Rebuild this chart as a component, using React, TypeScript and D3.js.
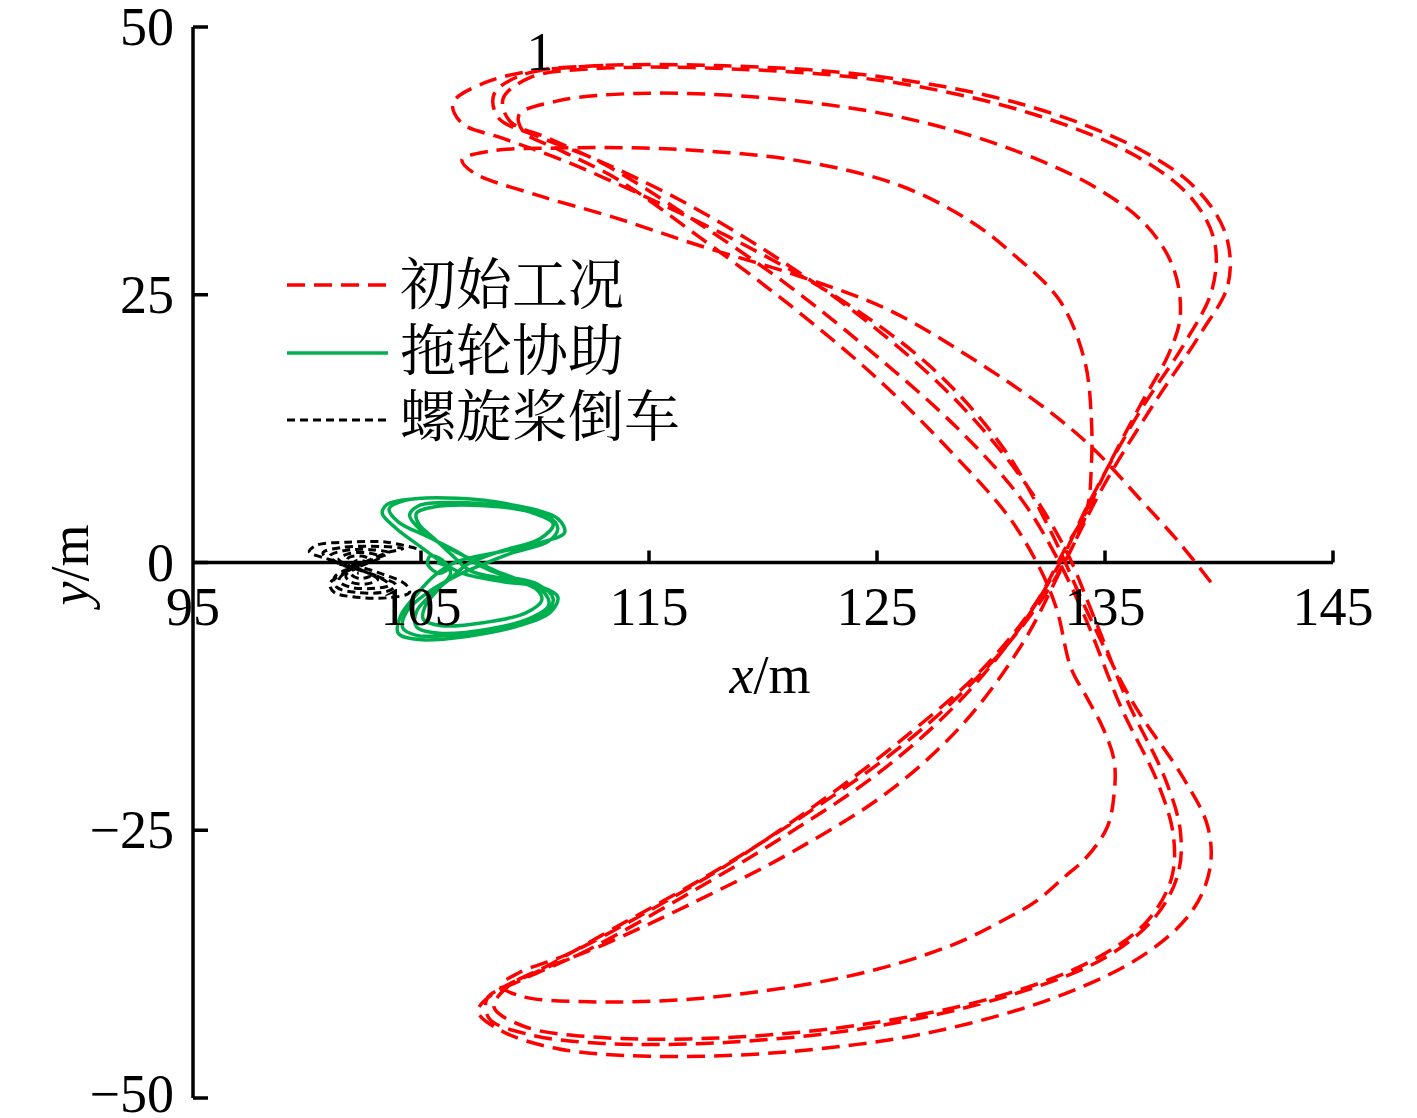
import React from 'react';
import * as d3 from 'd3';

type P = [number, number];

const xTicks = [95, 105, 115, 125, 135, 145];
const yTicks = [-50, -25, 0, 25, 50];
const legendLabels = ['初始工况', '拖轮协助', '螺旋桨倒车'];
const seriesColors = ['#ff0000', '#00b050', '#000000'];

const redTrack: P[] = [
  [113.0, 46.4], [110.2, 46.0], [107.8, 44.8], [106.4, 42.9], [106.8, 41.0],
  [108.6, 39.6], [111.4, 37.4], [115.2, 33.8], [119.5, 29.3], [123.8, 24.0], [127.6, 17.8], [130.6, 10.5], [132.6, 3.0], [134.2, -4.5], [136.2, -13.0], [138.4, -20.0],
  [139.5, -24.6], [139.6, -28.6], [138.8, -32.6], [136.8, -36.5], [133.2, -40.3], [127.5, -43.8], [121.0, -45.7], [115.0, -46.1], [111.0, -45.4], [108.5, -43.7], [107.5, -41.9], [108.2, -40.2],
  [110.1, -38.2], [113.1, -35.6], [117.1, -31.6], [121.3, -27.0], [125.5, -21.4], [128.8, -15.0], [131.4, -7.5], [133.2, -0.1], [135.0, 7.4], [137.2, 15.0], [139.2, 21.4],
  [140.4, 26.0], [140.3, 30.6], [139.0, 34.9], [136.4, 38.7], [131.5, 42.7], [125.0, 45.4], [118.0, 46.4], [112.0, 46.3], [109.4, 45.5], [108.2, 43.7], [108.4, 41.5],
  [110.1, 39.8], [112.7, 37.6], [116.4, 33.8], [120.5, 28.6], [124.5, 22.6], [128.3, 15.5], [131.2, 8.3], [133.2, 1.5], [134.5, -5.0], [136.0, -13.0], [137.6, -20.0],
  [138.3, -25.0], [138.2, -29.1], [137.2, -33.1], [135.0, -36.9], [131.0, -40.3], [125.0, -43.3], [118.5, -44.8], [113.0, -44.9], [109.8, -44.1], [108.0, -42.6], [107.9, -40.7],
  [109.3, -39.1], [112.3, -36.2], [116.5, -31.2], [120.9, -25.6], [125.1, -19.6], [128.5, -13.2], [131.1, -6.6], [132.9, -0.5], [134.4, 6.0], [136.5, 14.0], [138.5, 20.5],
  [139.7, 25.5], [139.8, 30.0], [138.8, 34.0], [136.4, 37.9], [131.8, 41.9], [125.5, 44.9], [118.5, 46.1], [112.5, 46.1], [109.8, 45.3], [108.6, 43.3], [108.9, 41.2],
  [110.6, 39.6], [113.2, 37.0], [116.8, 32.2], [120.9, 26.2], [124.8, 19.6], [128.5, 12.6], [131.3, 6.0], [133.0, 0.0], [134.2, -5.5], [135.7, -13.5], [137.3, -20.5],
  [138.0, -25.5], [137.9, -29.6], [136.8, -33.6], [134.5, -37.1], [130.5, -40.4], [124.5, -43.1], [118.0, -44.4], [112.5, -44.3], [109.5, -43.3], [108.2, -41.5], [108.8, -39.6],
  [110.6, -37.6], [113.6, -34.0], [117.6, -29.2], [121.8, -23.6], [125.8, -17.6], [129.0, -11.6], [131.5, -5.6], [133.3, 0.3], [134.8, 7.5], [136.5, 14.5], [137.8, 19.5],
  [138.3, 23.0], [138.0, 27.5], [136.8, 31.5], [134.6, 35.0], [131.0, 38.5], [126.0, 41.6], [120.0, 43.4], [114.5, 43.8], [111.0, 43.1], [109.3, 41.8], [109.5, 40.2],
  [111.0, 38.6], [113.6, 35.8], [117.2, 30.4], [121.2, 24.0], [125.0, 17.2], [128.4, 10.0], [130.8, 4.2], [132.2, -0.8], [132.9, -4.5],
  [133.5, -9.8], [134.2, -12.6], [134.9, -15.4], [135.4, -18.5], [135.4, -21.6], [135.1, -24.7], [134.2, -27.5], [133.2, -29.4], [132.0, -31.6], [130.8, -33.1], [128.2, -35.8], [123.8, -38.6], [117.2, -40.7], [112.0, -41.0], [109.4, -40.5], [108.5, -39.5], [109.3, -38.3],
  [111.4, -36.6], [114.6, -33.0], [118.6, -28.0], [122.6, -22.2], [126.4, -16.0], [129.6, -10.0], [131.9, -4.0], [133.3, 1.5], [134.2, 5.0],
  [134.4, 9.0], [134.4, 13.5], [134.1, 18.9], [133.0, 24.5], [130.8, 29.1], [129.0, 32.0], [126.0, 35.2], [121.6, 37.5], [116.0, 38.6], [111.0, 38.7], [108.0, 38.4], [106.8, 37.6], [107.3, 36.4],
  [110.1, 34.3], [113.5, 32.2], [117.2, 29.6], [121.5, 26.8], [125.5, 23.6], [129.5, 18.6], [132.5, 14.2], [134.5, 10.6], [136.5, 6.0], [138.2, 2.0], [139.7, -2.0],
];

const greenTrack: P[] = [
  [104.5, 5.9], [103.5, 5.4], [103.3, 4.6], [103.9, 3.2], [104.9, 1.6], [105.8, 0.2], [106.8, -1.0], [108.6, -1.8], [110.3, -2.3], [111.0, -3.2], [110.7, -4.6], [109.3, -5.9], [107.0, -6.9], [104.9, -7.2], [104.0, -6.6], [104.1, -5.0], [104.8, -3.0], [105.6, -1.2], [106.6, 0.1],
  [108.5, 1.0], [110.3, 1.9], [111.3, 2.8], [111.0, 4.1], [109.2, 5.3], [106.6, 6.0], [104.3, 5.8], [103.6, 5.0], [104.0, 3.8], [105.3, 2.4], [106.6, 1.0], [107.5, -0.2], [108.6, -1.2], [110.1, -2.0], [110.8, -3.4], [110.4, -4.8], [108.9, -6.0], [106.6, -6.7], [104.8, -6.8], [104.2, -6.1], [104.4, -4.5], [105.3, -2.8], [106.6, -1.2], [107.8, -0.1],
  [109.0, 0.9], [110.6, 2.0], [111.0, 3.2], [110.5, 4.4], [108.8, 5.2], [106.4, 5.6], [104.9, 5.3], [104.5, 4.4], [105.0, 3.0], [106.0, 1.6], [107.2, 0.3], [108.3, -0.8], [109.4, -1.7], [110.4, -2.8], [110.6, -4.0], [109.8, -5.2], [108.0, -6.2], [105.8, -6.6], [104.8, -6.0], [104.8, -4.6], [105.5, -2.9], [106.4, -1.3], [107.0, -0.2],
  [108.4, 1.0], [110.2, 2.2], [110.8, 3.6], [109.8, 4.7], [107.8, 5.3], [105.6, 5.2], [104.8, 4.6], [104.9, 3.6], [105.6, 2.2], [106.4, 0.6], [107.2, -0.8], [108.8, -1.6], [110.0, -2.4], [110.3, -3.5], [109.6, -4.7], [107.8, -5.6], [105.9, -5.9], [105.1, -5.3], [105.2, -4.0], [105.8, -2.4], [106.3, -1.0], [105.9, 0.3], [105.4, 0.6], [105.3, -0.2], [105.8, -1.0], [106.2, -0.5], [105.7, 0.0],
];

const blackTrack: P[] = [
  [104.8, 1.3], [103.5, 1.9], [101.8, 1.9], [100.4, 1.6], [100.1, 1.0], [100.8, 0.4], [102.0, -0.2], [103.2, -1.0], [104.3, -2.0], [104.5, -2.8], [103.5, -3.3], [102.0, -3.2], [101.2, -2.8], [101.0, -2.0], [101.6, -1.0], [102.5, 0.0], [103.5, 0.9], [104.2, 1.3], [103.2, 1.5], [101.5, 1.4], [100.7, 0.9], [101.0, 0.2], [102.0, -0.5], [103.1, -1.3], [103.9, -2.1], [103.5, -2.7], [102.2, -2.8], [101.3, -2.3], [101.2, -1.4], [101.9, -0.5], [102.9, 0.3], [103.6, 0.9], [102.8, 1.2], [101.6, 1.1], [101.0, 0.6], [101.4, -0.1], [102.3, -0.7], [103.2, -1.4], [103.6, -2.1], [103.0, -2.4], [101.9, -2.3], [101.4, -1.7], [101.7, -0.9], [102.5, -0.2], [103.2, 0.5], [102.7, 0.9], [101.8, 0.8], [101.4, 0.3], [101.8, -0.3], [102.6, -0.9], [103.1, -1.6], [102.6, -2.0], [101.9, -1.8], [101.7, -1.2], [102.2, -0.5], [102.8, 0.2], [102.4, 0.6], [101.8, 0.4], [101.8, -0.2], [102.4, -0.7], [102.8, -1.2], [102.3, -1.5], [101.9, -1.0], [102.2, -0.4], [102.6, 0.0], [102.2, 0.2], [102.0, -0.2], [102.3, -0.6], [102.5, -0.9], [102.2, -1.0],
];

const fmt = (d: number) => (d < 0 ? '\u2212' + Math.abs(d) : String(d));

export default function App() {
  const W = 1417;
  const H = 1118;
  const x = d3.scaleLinear().domain([95, 145]).range([193, 1333]);
  const y = d3.scaleLinear().domain([-50, 50]).range([1098, 27]);
  const line = d3
    .line<P>()
    .x((d) => x(d[0]))
    .y((d) => y(d[1]))
    .curve(d3.curveCatmullRom.alpha(0.5));

  const num = "'Liberation Serif', 'Times New Roman', serif";
  const cjk = "'Noto Serif CJK SC', 'Noto Sans CJK SC', sans-serif";
  const y0 = y(0);
  const dashes = ['18,9', null, '8,5'];

  return (
    <svg width={W} height={H} style={{ position: 'absolute', left: 0, top: 0, background: '#fff' }}>
      <rect x={0} y={0} width={W} height={H} fill="#fff" />
      <g stroke="#000" strokeWidth={3.5} fill="none">
        <line x1={x(95)} x2={x(145)} y1={y0} y2={y0} />
        <line x1={x(95)} x2={x(95)} y1={y(-50)} y2={y(50)} />
        {xTicks.filter((t) => t !== 95).map((t) => (
          <line key={t} x1={x(t)} x2={x(t)} y1={y0} y2={y0 - 12} />
        ))}
        {yTicks.map((t) => (
          <line key={t} x1={x(95)} x2={x(95) + 15} y1={y(t)} y2={y(t)} />
        ))}
      </g>
      <path d={line(redTrack) || ''} fill="none" stroke={seriesColors[0]} strokeWidth={3.5} strokeDasharray="18,9" strokeLinejoin="round" />
      <path d={line(greenTrack) || ''} fill="none" stroke={seriesColors[1]} strokeWidth={3.5} strokeLinejoin="round" />
      <path d={line(blackTrack) || ''} fill="none" stroke={seriesColors[2]} strokeWidth={3} strokeDasharray="8,5" strokeLinejoin="round" />
      <g fontFamily={num} fontSize={54} fill="#000">
        {xTicks.map((t) => (
          <text key={t} x={x(t)} y={625} textAnchor="middle">{fmt(t)}</text>
        ))}
        {yTicks.map((t) => (
          <text key={t} x={174} y={Math.min(Math.max(y(t) + 18, 44), 1112)} textAnchor="end">{fmt(t)}</text>
        ))}
        <text x={770} y={693} textAnchor="middle">
          <tspan fontStyle="italic">x</tspan>/m
        </text>
        <text transform={`translate(88,565) rotate(-90)`} textAnchor="middle">
          <tspan fontStyle="italic">y</tspan>/m
        </text>
        <text x={540} y={70} textAnchor="middle">1</text>
      </g>
      <g>
        {legendLabels.map((lab, i) => {
          const ly = [285, 353, 420][i];
          const ty = [304, 370, 436][i];
          return (
            <g key={lab}>
              <line x1={287} x2={388} y1={ly} y2={ly} stroke={seriesColors[i]} strokeWidth={i === 2 ? 3 : 3.5} strokeDasharray={dashes[i] || undefined} />
              <text x={400} y={ty} fontFamily={cjk} fontSize={56} fill="#000">{lab}</text>
            </g>
          );
        })}
      </g>
    </svg>
  );
}
